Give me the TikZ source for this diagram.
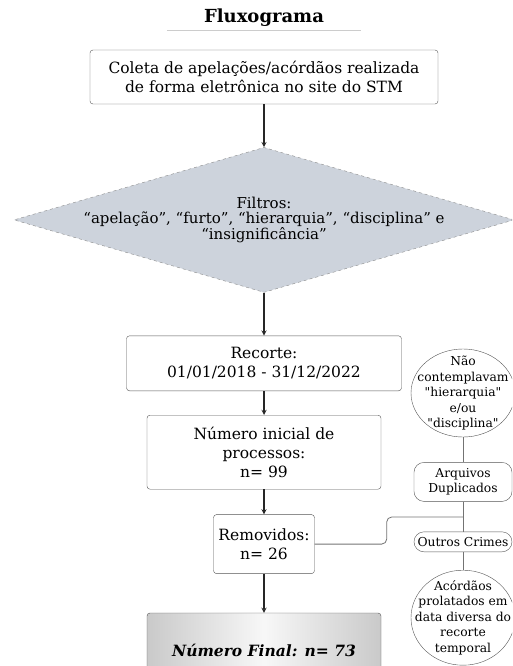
\documentclass[tikz,border=0pt]{standalone}
\usepackage{fontspec}
\setmainfont{DejaVu Serif}[Ligatures=TeXOff]
\usetikzlibrary{positioning,shapes.geometric,arrows}

\definecolor{filtrofill}{HTML}{CDD3DC}
\definecolor{bordagris}{HTML}{555555}

\begin{document}
\begin{tikzpicture}[x=1pt,y=1pt,>=stealth,
	every node/.style={align=center},
	box/.style={shape=rectangle,draw=bordagris,rounded corners=3pt,font=\fontsize{15.5}{19}\selectfont},
	decision/.style={shape=diamond,draw=black!45,dashed,fill=filtrofill,inner sep=0pt},
	pill/.style={shape=rectangle,draw=bordagris,rounded corners=10pt,font=\fontsize{12.3}{15.5}\selectfont},
	oval/.style={shape=ellipse,draw=bordagris,inner xsep=-20pt,inner ysep=-10pt,font=\fontsize{12.3}{15.5}\selectfont},
	flow/.style={->,line width=1.3pt,black!85},
	side/.style={draw=black!55,line width=0.8pt},]
		\useasboundingbox (0,0) rectangle (512,-666);
		\clip (0,0) rectangle (512,-666);
		% create the nodes
		\node (titulo) at (264,-18) [minimum width=194pt,font=\fontsize{18}{20}\selectfont\bfseries] {Fluxograma};
		\node (coleta) at (264,-77) [box,minimum width=348pt,minimum height=54pt] {Coleta de apelações/acórdãos realizada\\de forma eletrônica no site do STM};
		\node (filtros) [decision,below =43pt of coleta,minimum width=500pt,minimum height=145pt] {};
		\node (filtrostxt) at (filtros.center) [font=\fontsize{15}{15.5}\selectfont] {Filtros:\\“apelação”, “furto”, “hierarquia”, “disciplina” e\\“insignificância”};
		\node (recorte) [box,below =43pt of filtros,minimum width=275pt,minimum height=55pt] {Recorte:\\01/01/2018 - 31/12/2022};
		\node (inicial) [box,below =24pt of recorte,minimum width=234pt,minimum height=74pt] {Número inicial de\\processos:\\n= 99};
		\node (removidos) [box,below =25pt of inicial,minimum width=101pt,minimum height=59pt] {Removidos:\\n= 26};
		\node (final) [box,below =39pt of removidos,minimum width=234pt,minimum height=74pt,left color=black!21,right color=black!21,middle color=black!3] {\itshape\bfseries Número Final: n= 73};
		
		\node (naocont) at (463,-393) [oval,minimum width=104pt,minimum height=88pt] {Não\\contemplavam\\"hierarquia"\\e/ou\\"disciplina"};
		\node (arquivos) [pill,below =25pt of naocont,minimum width=98pt,minimum height=39pt] {Arquivos\\Duplicados};
		\node (outros) [pill,below =30pt of arquivos,minimum width=98pt,minimum height=20pt,inner ysep=1pt] {Outros Crimes};
		\node (acordaos) [oval,below =18pt of outros,minimum width=104pt,minimum height=95pt] {Acórdãos\\prolatados em\\data diversa do\\recorte\\temporal};
		\coordinate (juncao) at (463,-517);
		
		% connect the nodes
		\draw[draw=black!20,line width=1.3pt] (titulo.south west) -- (titulo.south east);
		\draw[flow] (coleta) -- (filtros);
		\draw[flow] (filtros) -- (recorte);
		\draw[flow] (recorte) -- (inicial);
		\draw[flow] (inicial) -- (removidos);
		\draw[flow] (removidos) -- (final);
		
		\draw[side] (naocont) -- (arquivos);
		\draw[side] (arquivos) -- (outros);
		\draw[side] (outros) -- (acordaos);
		\draw[side,rounded corners=5pt] (removidos.east) -- ++(72,0) |- (juncao);
		
	\end{tikzpicture}
\end{document}
